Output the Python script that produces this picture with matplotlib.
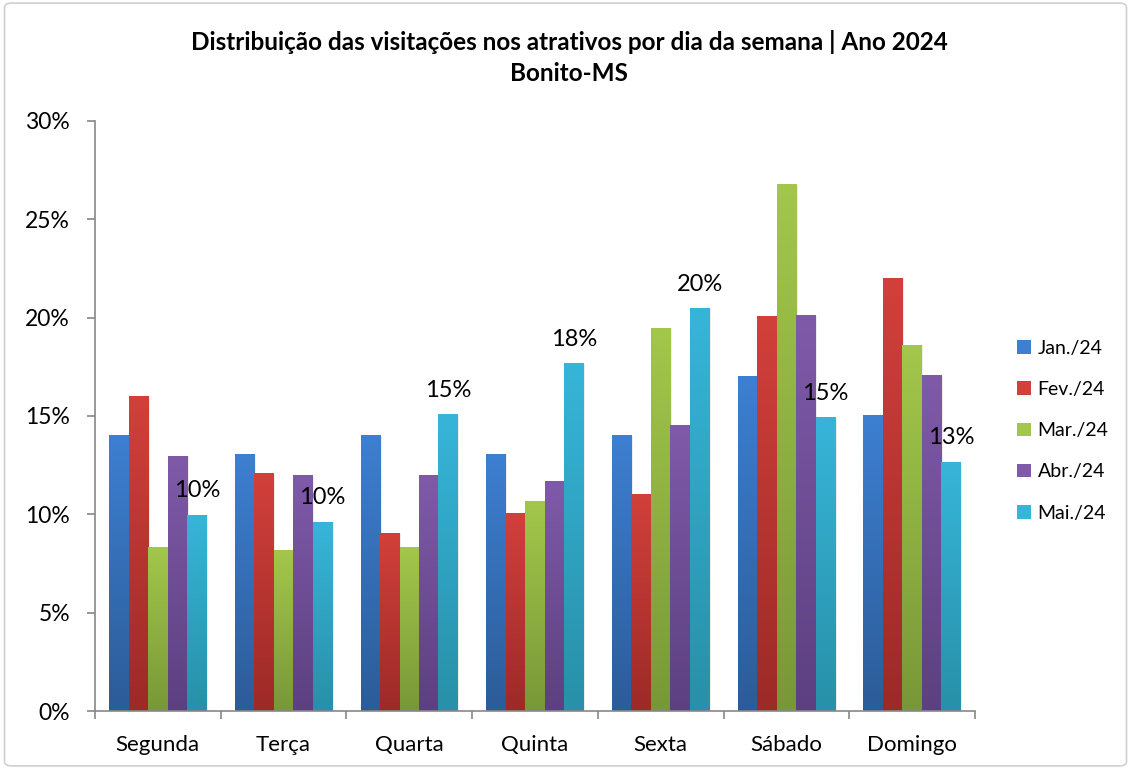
import matplotlib
matplotlib.use("Agg")
import matplotlib.pyplot as plt
import numpy as np
from matplotlib.patches import FancyBboxPatch, Patch
from matplotlib.colors import LinearSegmentedColormap

categories = ["Segunda", "Terça", "Quarta", "Quinta", "Sexta", "Sábado", "Domingo"]
series_names = ["Jan./24", "Fev./24", "Mar./24", "Abr./24", "Mai./24"]
jan = [14.0, 13.05, 14.0, 13.05, 14.0, 17.0, 15.0]
fev = [16.0, 12.05, 9.05, 10.05, 11.0, 20.05, 22.0]
mar = [8.3, 8.15, 8.3, 10.65, 19.45, 26.75, 18.6]
abr = [12.95, 11.95, 11.95, 11.65, 14.5, 20.1, 17.05]
mai = [9.95, 9.6, 15.05, 17.65, 20.45, 14.9, 12.65]
series = [jan, fev, mar, abr, mai]
yticks = [0, 5, 10, 15, 20, 25, 30]

top_colors = ["#3D7FD1", "#D2403B", "#A3C74B", "#7F5AA9", "#37B5D9"]
bot_colors = ["#2C5C98", "#9C2A27", "#789838", "#5C4080", "#2890A8"]

plt.rcParams['font.family'] = ['Lato', 'DejaVu Sans']

fig = plt.figure(figsize=(11.31, 7.69), dpi=100)
fig.patches.append(FancyBboxPatch((0.004, 0.004), 0.992, 0.992, boxstyle="round,pad=0,rounding_size=0.006",
                                  transform=fig.transFigure, facecolor="white", edgecolor="#D0D0D0", lw=1.2, zorder=-10))
ax = fig.add_axes([0.084, 0.0754, 0.778, 0.7673])
ax.set_facecolor("none")

n = len(categories)
x = np.arange(n)
w = 0.155
for i, (vals, tc, bc) in enumerate(zip(series, top_colors, bot_colors)):
    cmap = LinearSegmentedColormap.from_list(f"g{i}", [bc, tc])
    grad = np.linspace(0, 1, 256).reshape(-1, 1)
    bars = ax.bar(x + (i - 2) * w, vals, width=w, facecolor="none", edgecolor="none", zorder=2)
    for b in bars:
        x0, y0 = b.get_x(), b.get_y()
        ax.imshow(grad, cmap=cmap, origin="lower", aspect="auto",
                  extent=(x0, x0 + b.get_width(), y0, y0 + b.get_height()), zorder=2, interpolation="bilinear")
        ax.add_patch(plt.Rectangle((x0 + b.get_width(), 0), 0.012, b.get_height(), facecolor="#000000", alpha=0.07,
                                   edgecolor="none", zorder=1.5))

# labels on last series
for xi, v in zip(x, mai):
    ax.annotate(f"{v:.0f}%", (xi + 2 * w, v), xytext=(0, 10), textcoords="offset points",
                ha="center", va="bottom", fontsize=17, color="black", zorder=5)

ax.set_xlim(-0.5, n - 0.5)
ax.set_ylim(0, 30)
ax.set_yticks(yticks)
ax.set_yticklabels([f"{t}%" for t in yticks], fontsize=16.5)
ax.set_xticks(x)
ax.set_xticklabels(categories, fontsize=16)
ax.set_xticks(np.arange(-0.5, n, 1), minor=True)
ax.tick_params(axis="x", which="major", length=0, pad=17)
ax.tick_params(axis="x", which="minor", length=6, color="#888888", width=1.2)
ax.tick_params(axis="y", length=6, color="#888888", width=1.2, pad=12)
for s in ["top", "right"]:
    ax.spines[s].set_visible(False)
for s in ["left", "bottom"]:
    ax.spines[s].set_color("#888888")
    ax.spines[s].set_linewidth(1.2)

fig.text(0.503, 0.945, "Distribuição das visitações nos atrativos por dia da semana | Ano 2024",
         ha="center", va="center", fontsize=17.5, fontweight="bold")
fig.text(0.503, 0.905, "Bonito-MS", ha="center", va="center", fontsize=17.5, fontweight="bold")

handles = [Patch(facecolor=c, edgecolor="none") for c in top_colors]
leg = fig.legend(handles, series_names, loc="center left", bbox_to_anchor=(0.884, 0.44), frameon=False,
                 fontsize=14, handlelength=0.7, handleheight=0.7, labelspacing=1.25, handletextpad=0.35)

fig.savefig("out.png", dpi=100)
